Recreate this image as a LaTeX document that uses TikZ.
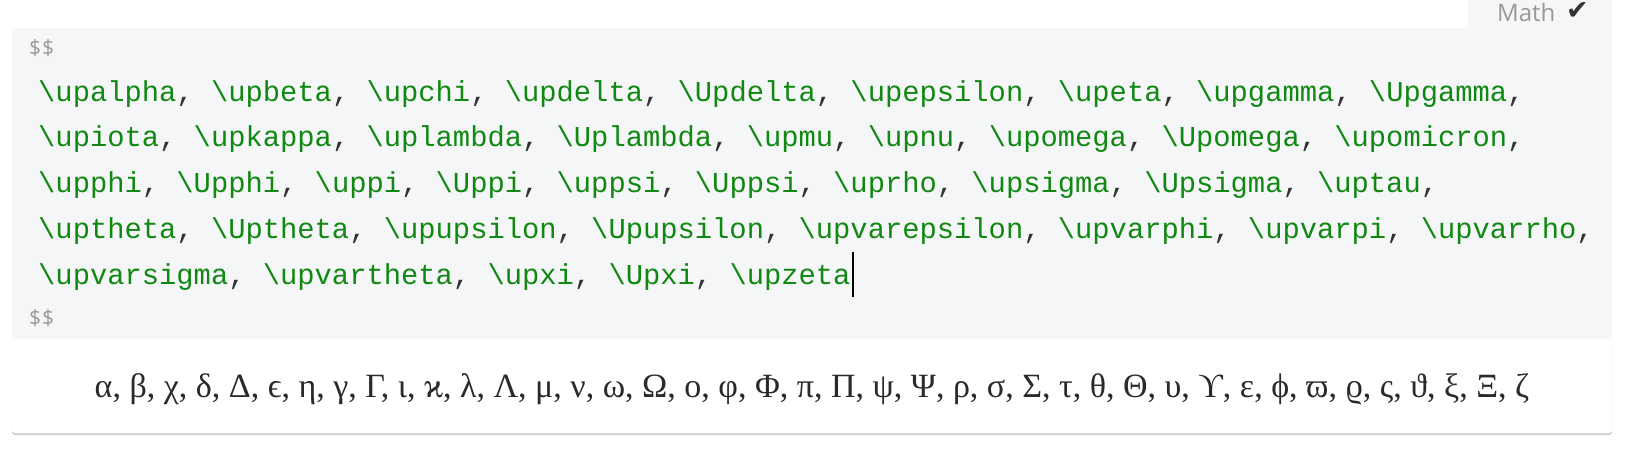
\documentclass[tikz,border=0pt]{standalone}
\usepackage{fontspec}
\newfontfamily\codefont{Liberation Mono}
\newfontfamily\greekfont{Liberation Serif}
\newfontfamily\uifont{Open Sans}
\newfontfamily\symfont{DejaVu Sans}
\definecolor{codebg}{HTML}{F5F6F8}
\definecolor{codegreen}{HTML}{118811}
\definecolor{punct}{HTML}{333333}
\definecolor{uigray}{HTML}{999999}
\definecolor{greektext}{HTML}{2A2A2A}
\newcommand{\cm}[1]{{\color{codegreen}\textbackslash #1}}
\newcommand{\cp}{{\color{punct},}}
\begin{document}
\begin{tikzpicture}[x=1pt,y=-1pt,
  codeline/.style={anchor=base west,inner sep=0pt,font=\codefont\fontsize{28.8}{30}\selectfont},
  dollars/.style={anchor=base west,inner sep=0pt,text=uigray,font=\uifont\fontsize{21}{24}\selectfont},
  greekline/.style={anchor=base,inner sep=0pt,text=greektext,font=\greekfont\fontsize{34}{40}\selectfont}]
\useasboundingbox (0,0) rectangle (1626,450);
\fill[white] (0,0) rectangle (1626,450);
% tab and code area
\fill[codebg] (1468,0) rectangle (1612,30);
\fill[codebg] (12,28) rectangle (1612,339);
\node[anchor=base west,inner sep=0pt,text=uigray,font=\uifont\fontsize{24}{26}\selectfont] (math) at (1497,21) {Math};
\node[anchor=base west,inner sep=0pt,text=punct,font=\symfont\fontsize{27}{30}\selectfont] (check) at (1566,19) {✔};
% code
\node[dollars] (d1) at (29,55) {\$\kern1pt\$};
\node[codeline] (l1) at (38,101) {\cm{upalpha}\cp{} \cm{upbeta}\cp{} \cm{upchi}\cp{} \cm{updelta}\cp{} \cm{Updelta}\cp{} \cm{upepsilon}\cp{} \cm{upeta}\cp{} \cm{upgamma}\cp{} \cm{Upgamma}\cp};
\node[codeline] (l2) at (38,146.75) {\cm{upiota}\cp{} \cm{upkappa}\cp{} \cm{uplambda}\cp{} \cm{Uplambda}\cp{} \cm{upmu}\cp{} \cm{upnu}\cp{} \cm{upomega}\cp{} \cm{Upomega}\cp{} \cm{upomicron}\cp};
\node[codeline] (l3) at (38,192.5) {\cm{upphi}\cp{} \cm{Upphi}\cp{} \cm{uppi}\cp{} \cm{Uppi}\cp{} \cm{uppsi}\cp{} \cm{Uppsi}\cp{} \cm{uprho}\cp{} \cm{upsigma}\cp{} \cm{Upsigma}\cp{} \cm{uptau}\cp};
\node[codeline] (l4) at (38,238.25) {\cm{uptheta}\cp{} \cm{Uptheta}\cp{} \cm{upupsilon}\cp{} \cm{Upupsilon}\cp{} \cm{upvarepsilon}\cp{} \cm{upvarphi}\cp{} \cm{upvarpi}\cp{} \cm{upvarrho}\cp};
\node[codeline] (l5) at (38,284) {\cm{upvarsigma}\cp{} \cm{upvartheta}\cp{} \cm{upxi}\cp{} \cm{Upxi}\cp{} \cm{upzeta}};
\coordinate (cur1) at ([xshift=2pt]l5.east |- 0,252);
\coordinate (cur2) at ([xshift=2pt]l5.east |- 0,297);
\draw[line width=1.6pt,black] (cur1) -- (cur2);
\node[dollars] (d2) at (29,325) {\$\kern1pt\$};
% preview box
\fill[black!18,rounded corners=3pt] (12,341) rectangle (1612,435);
\fill[white,rounded corners=3pt] (12,339) rectangle (1612,433);
\node[greekline] (greek) at (812,397) {α, β, χ, δ, Δ, ϵ, η, γ, Γ, ι, ϰ, λ, Λ, μ, ν, ω, Ω, ο, φ, Φ, π, Π, ψ, Ψ, ρ, σ, Σ, τ, θ, Θ, υ, ϒ, ε, ϕ, ϖ, ϱ, ς, ϑ, ξ, Ξ, ζ};
\end{tikzpicture}
\end{document}
